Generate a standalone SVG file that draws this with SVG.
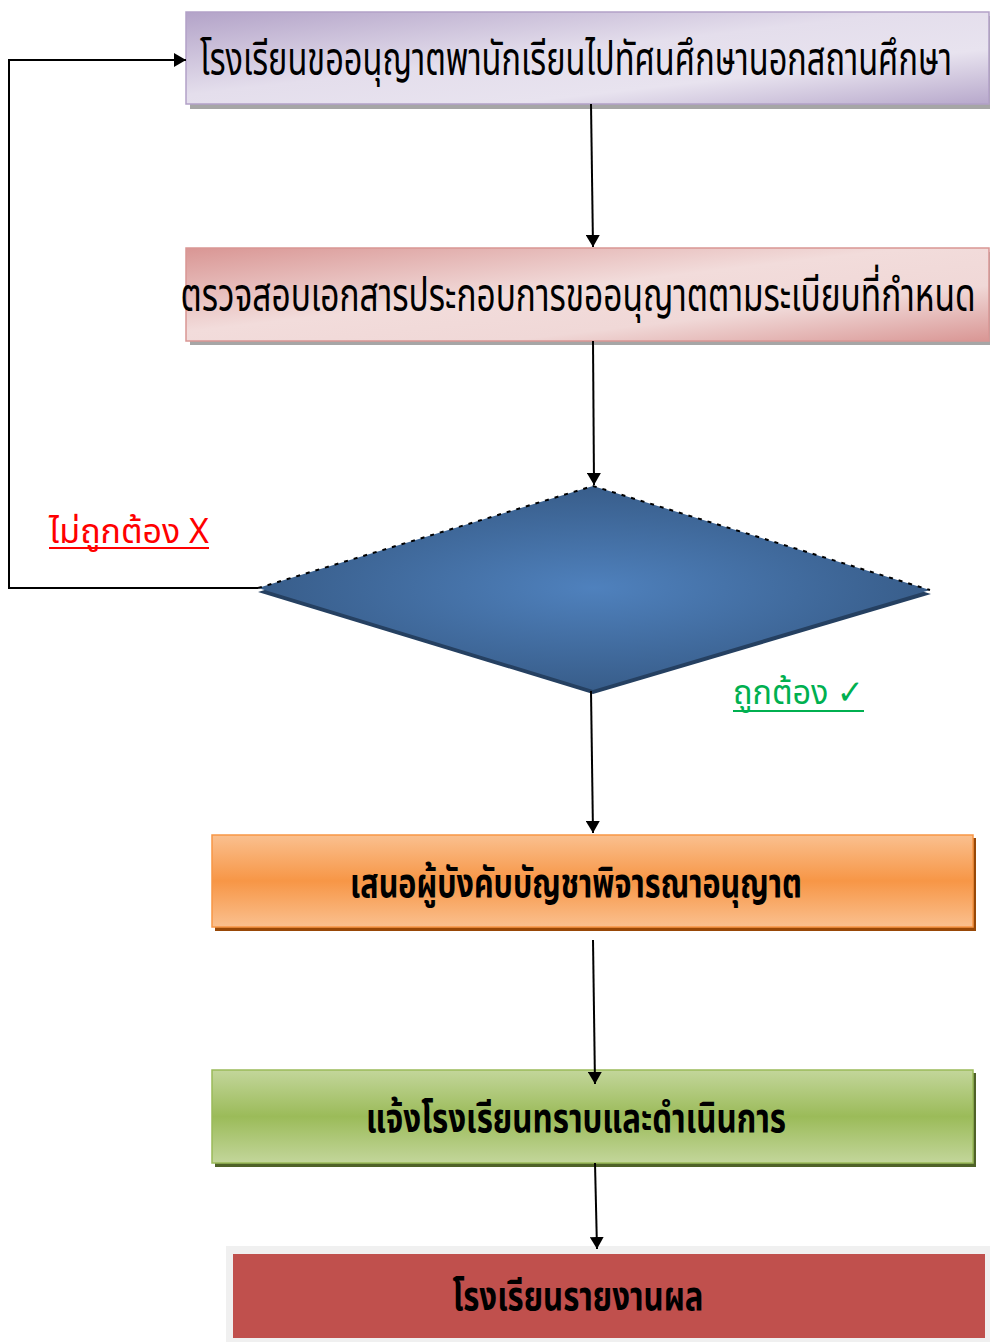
<svg xmlns="http://www.w3.org/2000/svg" width="990" height="1342" viewBox="0 0 990 1342">
<style>
.t{font-family:"Noto Sans Thai","Noto Sans","DejaVu Sans",sans-serif;fill:#000;}
.b{font-weight:bold;}
.c{stroke:#000;stroke-width:2;fill:none;}
</style>
<defs>
<linearGradient id="gPurple" x1="0" y1="0" x2="1" y2="1">
<stop offset="0" stop-color="#b3a3c8"/><stop offset="0.45" stop-color="#e4deec"/><stop offset="0.7" stop-color="#e8e3ef"/><stop offset="1" stop-color="#b7a8cb"/>
</linearGradient>
<linearGradient id="gPink" x1="0" y1="0" x2="1" y2="1">
<stop offset="0" stop-color="#d99694"/><stop offset="0.45" stop-color="#f2dcdb"/><stop offset="0.7" stop-color="#f0d8d7"/><stop offset="1" stop-color="#d99694"/>
</linearGradient>
<linearGradient id="gOrange" x1="0" y1="0" x2="0" y2="1">
<stop offset="0" stop-color="#fac08f"/><stop offset="0.5" stop-color="#f79646"/><stop offset="1" stop-color="#fac08f"/>
</linearGradient>
<linearGradient id="gGreen" x1="0" y1="0" x2="0" y2="1">
<stop offset="0" stop-color="#c3d69b"/><stop offset="0.5" stop-color="#9bbb59"/><stop offset="1" stop-color="#c3d69b"/>
</linearGradient>
<radialGradient id="gBlue" cx="0.5" cy="0.5" r="0.5">
<stop offset="0" stop-color="#4f81bd"/><stop offset="1" stop-color="#385d8a"/>
</radialGradient>
<marker id="ah" markerWidth="12" markerHeight="14" refX="12" refY="7" orient="auto" markerUnits="userSpaceOnUse">
<path d="M0,0 L12,7 L0,14 Z" fill="#000"/>
</marker>
</defs>

<g id="node1">
<rect x="190" y="16" width="800" height="93" fill="#a6a6a6"/>
<rect x="186" y="12" width="803" height="92" fill="url(#gPurple)" stroke="#b2a1c7" stroke-width="1.5"/>
<g transform="translate(576,75) scale(0.65,1)">
<text class="t" x="0" y="0" font-size="46" text-anchor="middle" textLength="1157" lengthAdjust="spacingAndGlyphs">โรงเรียนขออนุญาตพานักเรียนไปทัศนศึกษานอกสถานศึกษา</text>
</g>
</g>

<g id="node2">
<rect x="190" y="252" width="800" height="93" fill="#a6a6a6"/>
<rect x="186" y="248" width="803" height="93" fill="url(#gPink)" stroke="#d99694" stroke-width="1.5"/>
<g transform="translate(578,311) scale(0.65,1)">
<text class="t" x="0" y="0" font-size="46" text-anchor="middle" textLength="1223" lengthAdjust="spacingAndGlyphs">ตรวจสอบเอกสารประกอบการขออนุญาตตามระเบียบที่กำหนด</text>
</g>
</g>

<g id="decision">
<polygon points="593,491 931,594 593,694 258,592" fill="#254061"/>
<polygon points="593,486 930,590 593,690 258,588" fill="url(#gBlue)"/>
<path d="M258,588 L593,486 L930,590" fill="none" stroke="#000" stroke-width="2" stroke-dasharray="4,6"/>
</g>

<g id="node4">
<rect x="215" y="838" width="761" height="93" fill="#984807"/>
<rect x="212" y="835" width="761" height="92" fill="url(#gOrange)" stroke="#f79646" stroke-width="1.5"/>
<text class="t b" x="576" y="897" font-size="40" text-anchor="middle" textLength="452" lengthAdjust="spacingAndGlyphs">เสนอผู้บังคับบัญชาพิจารณาอนุญาต</text>
</g>

<g id="node5">
<rect x="215" y="1073" width="761" height="94" fill="#4f6228"/>
<rect x="212" y="1070" width="761" height="93" fill="url(#gGreen)" stroke="#9bbb59" stroke-width="1.5"/>
<text class="t b" x="576" y="1132" font-size="40" text-anchor="middle" textLength="420" lengthAdjust="spacingAndGlyphs">แจ้งโรงเรียนทราบและดำเนินการ</text>
</g>

<g id="node6">
<rect x="226" y="1246" width="764" height="96" fill="#f0f0f0"/>
<rect x="233" y="1254" width="752" height="84" fill="#c0504d"/>
<text class="t b" x="578" y="1310" font-size="40" text-anchor="middle" textLength="251" lengthAdjust="spacingAndGlyphs">โรงเรียนรายงานผล</text>
</g>

<g id="labels">
<text class="t" x="49" y="543" font-size="34" style="fill:#ff0000" textLength="160" lengthAdjust="spacingAndGlyphs">ไม่ถูกต้อง X</text>
<line x1="49" y1="548" x2="209" y2="548" stroke="#ff0000" stroke-width="2"/>
<text class="t" x="733" y="704" font-size="34" style="fill:#00b050" textLength="131" lengthAdjust="spacingAndGlyphs">ถูกต้อง ✓</text>
<line x1="733" y1="711" x2="864" y2="711" stroke="#00b050" stroke-width="2"/>
</g>

<g id="connectors">
<line class="c" x1="591" y1="104" x2="593" y2="247" marker-end="url(#ah)"/>
<line class="c" x1="593" y1="341" x2="594" y2="485" marker-end="url(#ah)"/>
<polyline class="c" points="258,588 9,588 9,60 186,60" marker-end="url(#ah)"/>
<line class="c" x1="591" y1="691" x2="593" y2="833" marker-end="url(#ah)"/>
<line class="c" x1="593" y1="940" x2="595" y2="1084" marker-end="url(#ah)"/>
<line class="c" x1="595" y1="1163" x2="597" y2="1249" marker-end="url(#ah)"/>
</g>
</svg>
